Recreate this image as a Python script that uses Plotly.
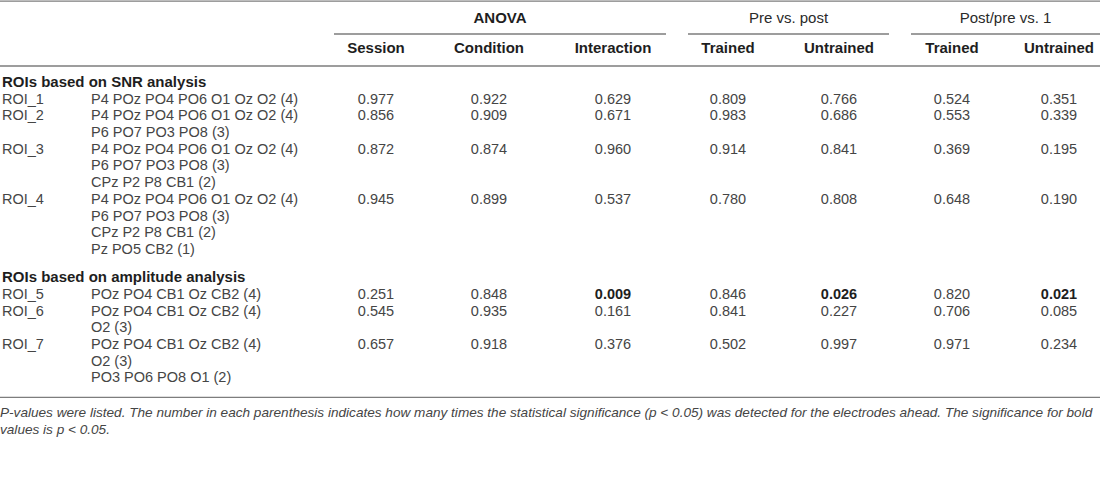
"""
Table of ROI p-values (ANOVA, pre vs. post, post/pre vs. 1) drawn with Plotly.
"""

import plotly.graph_objects as go

# ---- data -----------------------------------------------------------------
group_titles = ["ROIs based on SNR analysis", "ROIs based on amplitude analysis"]
roi_group = [0, 0, 0, 0, 1, 1, 1]
roi_names = ["ROI_1", "ROI_2", "ROI_3", "ROI_4", "ROI_5", "ROI_6", "ROI_7"]
electrodes = [
    ["P4 POz PO4 PO6 O1 Oz O2 (4)"],
    ["P4 POz PO4 PO6 O1 Oz O2 (4)", "P6 PO7 PO3 PO8 (3)"],
    ["P4 POz PO4 PO6 O1 Oz O2 (4)", "P6 PO7 PO3 PO8 (3)", "CPz P2 P8 CB1 (2)"],
    ["P4 POz PO4 PO6 O1 Oz O2 (4)", "P6 PO7 PO3 PO8 (3)", "CPz P2 P8 CB1 (2)",
     "Pz PO5 CB2 (1)"],
    ["POz PO4 CB1 Oz CB2 (4)"],
    ["POz PO4 CB1 Oz CB2 (4)", "O2 (3)"],
    ["POz PO4 CB1 Oz CB2 (4)", "O2 (3)", "PO3 PO6 PO8 O1 (2)"],
]

session = [0.977, 0.856, 0.872, 0.945, 0.251, 0.545, 0.657]
condition = [0.922, 0.909, 0.874, 0.899, 0.848, 0.935, 0.918]
interaction = [0.629, 0.671, 0.960, 0.537, 0.009, 0.161, 0.376]
pre_post_trained = [0.809, 0.983, 0.914, 0.780, 0.846, 0.841, 0.502]
pre_post_untrained = [0.766, 0.686, 0.841, 0.808, 0.026, 0.227, 0.997]
ratio_trained = [0.524, 0.553, 0.369, 0.648, 0.820, 0.706, 0.971]
ratio_untrained = [0.351, 0.339, 0.195, 0.190, 0.021, 0.085, 0.234]

value_columns = [session, condition, interaction, pre_post_trained,
                 pre_post_untrained, ratio_trained, ratio_untrained]
sub_headers = ["Session", "Condition", "Interaction", "Trained", "Untrained",
               "Trained", "Untrained"]
top_headers = ["ANOVA", "Pre vs. post", "Post/pre vs. 1"]

footnote = [
    "P-values were listed. The number in each parenthesis indicates how many times the "
    "statistical significance (p &lt; 0.05) was detected for the electrodes ahead. "
    "The significance for bold",
    "values is p &lt; 0.05.",
]

# ---- layout constants -----------------------------------------------------
W, H = 1100, 503
FONT = "Liberation Sans, Arial, Helvetica, sans-serif"
TXT = "#454545"
DARK = "#1e1e1e"
RULE = "#7d7d7d"
col_x = [376, 489, 613, 728, 839, 952, 1059]
span_x = [(334, 666), (688, 889), (911, 1100)]
x_roi, x_elec = 2, 91
LINE = 16.7
y_top_hdr, y_sub_hdr = 19, 49
y_rule_top, y_rule_span, y_rule_hdr = 1.2, 34, 66

# walk down the rows and give every text line its y position
group_y = []
roi_y = []
elec_x, elec_y, elec_txt = [], [], []
y = 83.3
last_group = None
for i, name in enumerate(roi_names):
    g = roi_group[i]
    if g != last_group:
        if last_group is not None:
            y += 11.6
        group_y.append(y)
        y += LINE
        last_group = g
    roi_y.append(y)
    for line in electrodes[i]:
        elec_x.append(x_elec)
        elec_y.append(y)
        elec_txt.append(line)
        y += LINE
y_rule_bottom = y - LINE + 18.6
y_foot = [y_rule_bottom + 16.5, y_rule_bottom + 33.5]

fig = go.Figure()

# group titles (bold)
fig.add_trace(go.Scatter(
    x=[x_roi] * len(group_titles), y=group_y,
    text=[f"<b>{t}</b>" for t in group_titles],
    mode="text", textposition="middle right",
    textfont=dict(family=FONT, size=15, color=DARK),
))

# ROI labels
fig.add_trace(go.Scatter(
    x=[x_roi] * len(roi_names), y=roi_y, text=roi_names,
    mode="text", textposition="middle right",
    textfont=dict(family=FONT, size=14.5, color=TXT),
))

# electrode lists
fig.add_trace(go.Scatter(
    x=elec_x, y=elec_y, text=elec_txt,
    mode="text", textposition="middle right",
    textfont=dict(family=FONT, size=14.5, color=TXT),
))

# p-value columns; significant values in bold
for cx, vals in zip(col_x, value_columns):
    labels = [f"<b>{v:.3f}</b>" if v < 0.05 else f"{v:.3f}" for v in vals]
    colors = [DARK if v < 0.05 else TXT for v in vals]
    fig.add_trace(go.Scatter(
        x=[cx] * len(vals), y=roi_y, text=labels,
        mode="text", textposition="middle center",
        textfont=dict(family=FONT, size=14.5, color=colors),
    ))

# column headers
fig.add_trace(go.Scatter(
    x=col_x, y=[y_sub_hdr] * len(col_x),
    text=[f"<b>{h}</b>" for h in sub_headers],
    mode="text", textposition="middle center",
    textfont=dict(family=FONT, size=15, color=DARK),
))
top_x = [(a + b) / 2 for a, b in span_x]
top_colors = [DARK, "#2a2a2a", "#2a2a2a"]
top_text = [f"<b>{top_headers[0]}</b>"] + top_headers[1:]
fig.add_trace(go.Scatter(
    x=top_x, y=[y_top_hdr] * len(top_x), text=top_text,
    mode="text", textposition="middle center",
    textfont=dict(family=FONT, size=15, color=top_colors),
))

# footnote
fig.add_trace(go.Scatter(
    x=[0, 0], y=y_foot, text=[f"<i>{t}</i>" for t in footnote],
    mode="text", textposition="middle right",
    textfont=dict(family=FONT, size=13.6, color=TXT),
))

# rules
rules = [(0, W, y_rule_top), (0, W, y_rule_hdr), (0, W, y_rule_bottom)]
rules += [(a, b, y_rule_span) for a, b in span_x]
for x0, x1, yy in rules:
    fig.add_shape(type="line", x0=x0, x1=x1, y0=yy, y1=yy,
                  xref="x", yref="y", line=dict(color=RULE, width=1.3))

fig.update_layout(
    width=W, height=H,
    margin=dict(l=0, r=0, t=0, b=0),
    paper_bgcolor="white", plot_bgcolor="white",
    showlegend=False, hovermode=False,
    xaxis=dict(range=[0, W], visible=False, fixedrange=True),
    yaxis=dict(range=[H, 0], visible=False, fixedrange=True),
)

# drop the browser's default body margin so the table sits at the page corner
fig.write_html("out.html", config={"displayModeBar": False, "staticPlot": True},
               post_script="document.body.style.margin='0';")
